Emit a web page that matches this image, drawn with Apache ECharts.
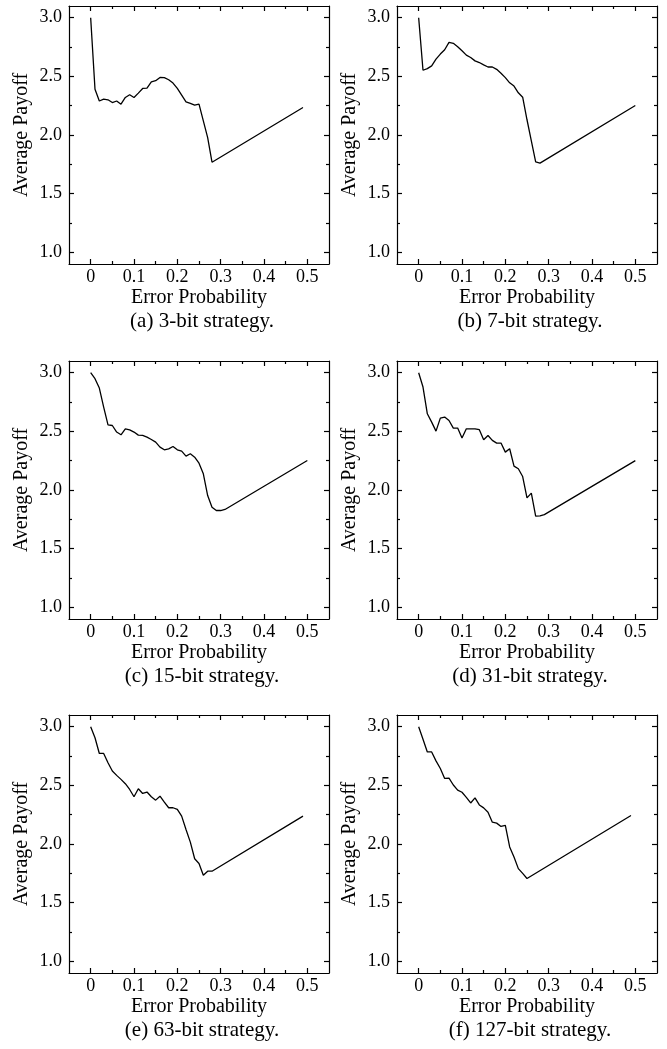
<!DOCTYPE html>
<html>
<head>
<meta charset="utf-8">
<script src="https://cdn.jsdelivr.net/npm/echarts@6/dist/echarts.min.js"></script>
<style>
  html, body { margin: 0; padding: 0; background: #fff; }
  #chart { width: 667px; height: 1049px; }
</style>
</head>
<body>
<div id="chart"></div>
<script>
// tick positions
const xMajor = [0, 0.1, 0.2, 0.3, 0.4, 0.5];
const xMinor = [0.05, 0.15, 0.25, 0.35, 0.45];
const yMajor = [1.0, 1.5, 2.0, 2.5, 3.0];
const yMinor = [1.25, 1.75, 2.25, 2.75];

const captions = ['(a) 3-bit strategy.', '(b) 7-bit strategy.', '(c) 15-bit strategy.',
  '(d) 31-bit strategy.', '(e) 63-bit strategy.', '(f) 127-bit strategy.'];

// (a) 3-bit
const probA = [0, 0.01, 0.02, 0.03, 0.04, 0.05, 0.06, 0.07, 0.08, 0.09, 0.10, 0.11, 0.12, 0.13, 0.14,
  0.15, 0.16, 0.17, 0.18, 0.19, 0.20, 0.21, 0.22, 0.23, 0.24, 0.25, 0.26, 0.27, 0.28, 0.49];
const payoffA = [3.0, 2.39, 2.29, 2.306, 2.30, 2.277, 2.29, 2.263, 2.32, 2.343, 2.32, 2.357, 2.397, 2.40, 2.454,
  2.463, 2.491, 2.489, 2.471, 2.443, 2.397, 2.34, 2.283, 2.269, 2.254, 2.263, 2.12, 1.977, 1.768, 2.235];

// (b) 7-bit
const probB = [0, 0.01, 0.02, 0.03, 0.04, 0.05, 0.06, 0.07, 0.08, 0.09, 0.10, 0.11, 0.12, 0.13, 0.14,
  0.15, 0.16, 0.17, 0.18, 0.19, 0.20, 0.21, 0.22, 0.23, 0.24, 0.25, 0.26, 0.27, 0.28, 0.50];
const payoffB = [3.0, 2.552, 2.566, 2.589, 2.647, 2.69, 2.727, 2.79, 2.782, 2.753, 2.718, 2.681, 2.661, 2.632, 2.618,
  2.598, 2.58, 2.58, 2.56, 2.526, 2.489, 2.445, 2.417, 2.36, 2.322, 2.13, 1.95, 1.77, 1.76, 2.252];

// (c) 15-bit
const probC = [0, 0.01, 0.02, 0.03, 0.04, 0.05, 0.06, 0.07, 0.08, 0.09, 0.10, 0.11, 0.12, 0.13, 0.14,
  0.15, 0.16, 0.17, 0.18, 0.19, 0.20, 0.21, 0.22, 0.23, 0.24, 0.25, 0.26, 0.27, 0.28, 0.29, 0.30, 0.31, 0.50];
const payoffC = [3.0, 2.949, 2.869, 2.707, 2.556, 2.55, 2.494, 2.471, 2.522, 2.513, 2.494, 2.468, 2.465, 2.451, 2.431,
  2.408, 2.366, 2.343, 2.351, 2.371, 2.343, 2.331, 2.289, 2.309, 2.28, 2.229, 2.138, 1.953, 1.853, 1.825, 1.825, 1.834, 2.252];

// (d) 31-bit
const probD = [0, 0.01, 0.02, 0.03, 0.04, 0.05, 0.06, 0.07, 0.08, 0.09, 0.10, 0.11, 0.12, 0.13, 0.14,
  0.15, 0.16, 0.17, 0.18, 0.19, 0.20, 0.21, 0.22, 0.23, 0.24, 0.25, 0.26, 0.27, 0.28, 0.29, 0.50];
const payoffD = [3.0, 2.878, 2.65, 2.579, 2.502, 2.613, 2.622, 2.593, 2.528, 2.528, 2.443, 2.522, 2.522, 2.522, 2.514,
  2.428, 2.465, 2.423, 2.40, 2.40, 2.323, 2.352, 2.204, 2.181, 2.115, 1.933, 1.973, 1.777, 1.78, 1.79, 2.25];

// (e) 63-bit
const probE = [0, 0.01, 0.02, 0.03, 0.04, 0.05, 0.06, 0.07, 0.08, 0.09, 0.10, 0.11, 0.12, 0.13, 0.14,
  0.15, 0.16, 0.17, 0.18, 0.19, 0.20, 0.21, 0.22, 0.23, 0.24, 0.25, 0.26, 0.27, 0.28, 0.49];
const payoffE = [3.0, 2.906, 2.772, 2.772, 2.693, 2.622, 2.585, 2.551, 2.514, 2.465, 2.403, 2.471, 2.431, 2.443, 2.403,
  2.374, 2.408, 2.357, 2.309, 2.309, 2.295, 2.238, 2.124, 2.016, 1.874, 1.834, 1.734, 1.768, 1.768, 2.238];

// (f) 127-bit
const probF = [0, 0.01, 0.02, 0.03, 0.04, 0.05, 0.06, 0.07, 0.08, 0.09, 0.10, 0.11, 0.12, 0.13, 0.14,
  0.15, 0.16, 0.17, 0.18, 0.19, 0.20, 0.21, 0.22, 0.23, 0.24, 0.25, 0.49];
const payoffF = [3.0, 2.893, 2.785, 2.785, 2.709, 2.644, 2.559, 2.562, 2.503, 2.46, 2.441, 2.398, 2.35, 2.393, 2.333,
  2.308, 2.271, 2.186, 2.178, 2.15, 2.158, 1.975, 1.89, 1.79, 1.749, 1.706, 2.243];

const probs = [probA, probB, probC, probD, probE, probF];
const payoffs = [payoffA, payoffB, payoffC, payoffD, payoffE, payoffF];

const chart = echarts.init(document.getElementById('chart'));

const font = 'Liberation Serif, Times New Roman, serif';
const colLeft = [69, 397];
const rowTop = [6, 361, 715];
const boxW = 260, boxH = 258;

const grids = [], xAxes = [], yAxes = [], series = [], texts = [];

for (let i = 0; i < 6; i++) {
  const left = colLeft[i % 2];
  const top = rowTop[Math.floor(i / 2)];
  grids.push({ left: left, top: top, width: boxW, height: boxH });

  const lineStyle = { color: '#000', width: 1.2 };
  const xBase = { gridIndex: i, type: 'value', min: -0.05, max: 0.55, splitLine: { show: false } };
  const yBase = { gridIndex: i, type: 'value', min: 0.9, max: 3.1, splitLine: { show: false } };

  // bottom: line, labels, major ticks
  xAxes.push(Object.assign({}, xBase, {
    position: 'bottom',
    axisLine: { show: true, onZero: false, lineStyle: lineStyle },
    axisTick: { show: true, inside: true, length: 5, customValues: xMajor, lineStyle: lineStyle },
    axisLabel: {
      customValues: xMajor, margin: 4, color: '#000', fontFamily: font, fontSize: 18,
      formatter: v => (v === 0 ? '0' : v.toFixed(1))
    },
    name: 'Error Probability', nameLocation: 'middle', nameGap: 24,
    nameTextStyle: { color: '#000', fontFamily: font, fontSize: 20 }
  }));
  // bottom minor ticks
  xAxes.push(Object.assign({}, xBase, {
    position: 'bottom',
    axisLine: { show: false, onZero: false },
    axisTick: { show: true, inside: true, length: 3, customValues: xMinor, lineStyle: lineStyle },
    axisLabel: { show: false }
  }));
  // top frame
  xAxes.push(Object.assign({}, xBase, {
    position: 'top',
    axisLine: { show: true, onZero: false, lineStyle: lineStyle },
    axisTick: { show: true, inside: true, length: 5, customValues: xMajor, lineStyle: lineStyle },
    axisLabel: { show: false }
  }));
  xAxes.push(Object.assign({}, xBase, {
    position: 'top',
    axisLine: { show: false, onZero: false },
    axisTick: { show: true, inside: true, length: 3, customValues: xMinor, lineStyle: lineStyle },
    axisLabel: { show: false }
  }));

  // left: line, labels, major ticks
  yAxes.push(Object.assign({}, yBase, {
    position: 'left',
    axisLine: { show: true, onZero: false, lineStyle: lineStyle },
    axisTick: { show: true, inside: true, length: 5, customValues: yMajor, lineStyle: lineStyle },
    axisLabel: {
      customValues: yMajor, margin: 7, color: '#000', fontFamily: font, fontSize: 18,
      formatter: v => v.toFixed(1)
    },
    name: 'Average Payoff', nameLocation: 'middle', nameGap: 37,
    nameTextStyle: { color: '#000', fontFamily: font, fontSize: 20 }
  }));
  yAxes.push(Object.assign({}, yBase, {
    position: 'left',
    axisLine: { show: false, onZero: false },
    axisTick: { show: true, inside: true, length: 3, customValues: yMinor, lineStyle: lineStyle },
    axisLabel: { show: false }
  }));
  // right frame
  yAxes.push(Object.assign({}, yBase, {
    position: 'right',
    axisLine: { show: true, onZero: false, lineStyle: lineStyle },
    axisTick: { show: true, inside: true, length: 5, customValues: yMajor, lineStyle: lineStyle },
    axisLabel: { show: false }
  }));
  yAxes.push(Object.assign({}, yBase, {
    position: 'right',
    axisLine: { show: false, onZero: false },
    axisTick: { show: true, inside: true, length: 3, customValues: yMinor, lineStyle: lineStyle },
    axisLabel: { show: false }
  }));

  series.push({
    type: 'line',
    xAxisIndex: i * 4,
    yAxisIndex: i * 4,
    data: probs[i].map((p, k) => [p, payoffs[i][k]]),
    showSymbol: false,
    symbol: 'none',
    lineStyle: { color: '#000', width: 1.3 },
    animation: false
  });

  // caption under each panel
  texts.push({
    type: 'text',
    x: left + boxW / 2 + 3,
    y: top + boxH + 57,
    style: {
      text: captions[i], fill: '#000', font: '21px ' + font,
      textAlign: 'center', textVerticalAlign: 'middle'
    }
  });
}

chart.setOption({
  animation: false,
  grid: grids,
  xAxis: xAxes,
  yAxis: yAxes,
  series: series,
  graphic: texts
});
</script>
</body>
</html>
